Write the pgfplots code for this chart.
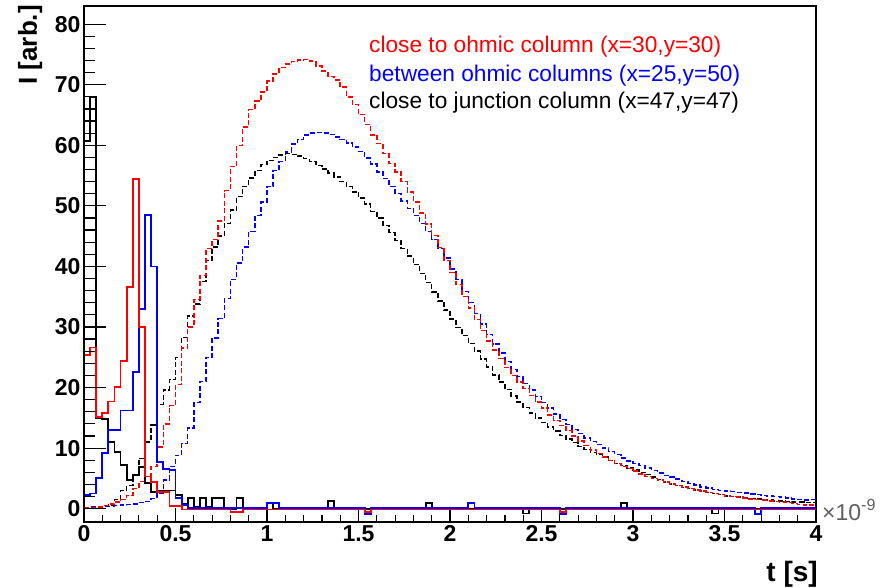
\documentclass[border=0pt]{standalone}
\usepackage{fontspec}
\setmainfont{Liberation Sans}
\usepackage{pgfplots}
\pgfplotsset{compat=1.18}
\usepackage{pgfplotstable}
\newcommand\tickfont{\fontsize{23}{27}\selectfont\bfseries}
\definecolor{expgray}{RGB}{95,95,95}

% bin index k (bin width 1/30 ns), dashed histograms
\pgfplotstableread{
k red blue black
0 0.1 0.2 0.1
1 0.2 0.3 0.2
2 0.3 0.3 0.3
3 0.5 0.4 0.4
4 0.8 0.4 0.6
5 1.1 0.5 1.5
6 1.5 0.6 3.0
7 2.2 0.7 3.8
8 3.3 0.8 5.5
9 4.5 1.0 8.3
10 5.3 1.2 11.0
11 7.0 1.7 13.8
12 10.2 2.6 17.2
13 14.0 4.7 19.6
14 17.0 7.0 21.3
15 20.5 8.8 25.0
16 26.5 10.8 28.3
17 30.0 13.3 31.8
18 34.5 17.5 33.8
19 38.5 21.0 37.5
20 43.0 25.0 41.0
21 44.4 28.2 43.2
22 47.5 31.4 45.0
23 52.5 34.7 47.1
24 56.5 37.8 49.3
25 60.0 40.6 51.5
26 63.0 43.2 53.2
27 65.9 45.8 54.6
28 67.3 48.4 55.8
29 68.8 50.6 56.8
30 70.6 53.2 57.5
31 71.8 55.8 58.0
32 72.8 57.3 58.4
33 73.4 58.9 58.6
34 73.8 60.2 58.5
35 74.1 61.0 58.2
36 74.2 61.7 57.8
37 73.9 62.0 57.3
38 73.1 62.1 56.7
39 72.3 62.0 56.1
40 71.4 61.8 55.4
41 70.8 61.4 54.8
42 69.6 61.0 54.0
43 68.0 60.4 53.2
44 66.7 59.7 52.3
45 65.1 59.0 51.3
46 63.4 57.9 50.3
47 61.7 56.9 49.1
48 60.3 55.6 48.0
49 58.6 54.5 46.8
50 57.0 53.2 45.6
51 55.6 52.0 44.3
52 54.0 50.8 43.0
53 52.3 49.6 41.7
54 50.6 48.4 40.3
55 48.8 47.1 38.8
56 47.0 45.8 37.3
57 45.1 44.4 35.8
58 43.1 43.0 34.3
59 41.0 41.4 32.8
60 39.0 39.6 31.3
61 37.0 37.8 29.9
62 35.0 35.9 28.6
63 33.1 34.0 27.3
64 31.2 32.2 26.0
65 29.4 30.5 24.7
66 27.7 28.8 23.4
67 26.2 27.2 22.1
68 24.8 25.7 20.9
69 23.3 24.3 19.7
70 22.0 23.0 18.6
71 20.9 21.8 17.6
72 19.8 20.7 16.7
73 18.7 19.6 15.8
74 17.6 18.5 15.0
75 16.6 17.5 14.2
76 15.5 16.6 13.5
77 14.6 15.6 12.8
78 13.7 14.7 12.1
79 12.9 13.9 11.5
80 12.0 13.1 10.9
81 11.2 12.4 10.3
82 10.4 11.7 9.8
83 9.7 11.1 9.3
84 9.1 10.6 8.9
85 8.5 10.0 8.5
86 8.0 9.4 8.0
87 7.5 8.9 7.5
88 7.0 8.4 7.1
89 6.6 7.9 6.7
90 6.2 7.5 6.4
91 5.7 7.1 6.0
92 5.3 6.7 5.6
93 5.0 6.3 5.2
94 4.7 5.9 4.8
95 4.4 5.5 4.4
96 4.1 5.2 4.1
97 3.8 4.9 3.8
98 3.6 4.5 3.5
99 3.3 4.2 3.3
100 3.1 3.9 3.1
101 2.9 3.6 2.9
102 2.7 3.4 2.7
103 2.5 3.2 2.5
104 2.3 3.0 2.3
105 2.1 2.9 2.1
106 2.0 2.8 2.0
107 1.9 2.7 1.9
108 1.8 2.6 1.8
109 1.6 2.4 1.7
110 1.5 2.3 1.6
111 1.4 2.2 1.5
112 1.3 2.1 1.4
113 1.2 2.0 1.3
114 1.1 1.9 1.3
115 1.0 1.8 1.2
116 0.9 1.6 1.1
117 0.7 1.5 1.1
118 0.6 1.4 1.0
119 0.6 1.5 1.0
120 0.6 1.5 1.0
}\dashed

\begin{document}
\begin{tikzpicture}
\path[use as bounding box] (-84pt,-65pt) rectangle (803pt,522pt);
\begin{axis}[
  scale only axis, width=732pt, height=516pt,
  at={(0pt,0pt)}, anchor=south west,
  xmin=0, xmax=120, ymin=-2.2, ymax=83,
  xtick={0,15,...,120},
  xticklabels={0,0.5,1,1.5,2,2.5,3,3.5,4},
  minor x tick num=4,
  ytick=\empty,
  xtick pos=lower,
  tick align=inside,
  major tick length=14pt, minor tick length=7.5pt,
  xticklabel style={font=\tickfont},
  axis line style={line width=1.2pt},
  every tick/.style={black, line width=1.2pt},
  dsh/.style={const plot, line width=1.45pt, dash pattern=on 5pt off 2.5pt},
  sld/.style={const plot, line width=1.8pt},
]
\addplot[dsh, black] table[x=k, y=black] {\dashed};
\addplot[dsh, blue] table[x=k, y=blue] {\dashed};
\addplot[dsh, red] table[x=k, y=red] {\dashed};
% solid: black
\addplot[sld, black] coordinates {(0,60.7)(1,68.0)(2,15.0)(3,14.8)(4,11.0)(5,9.4)(6,7.2)(7,4.7)(8,5.5)(9,6.9)(10,4.2)(11,2.8)(12,3.0)(13,3.0)(14,3.0)(15,2.2)(16,0.8)(17,1.8)(18,0.3)(19,1.8)(20,0.3)(21,1.8)(22,1.8)(23,0)(25,1.8)(26,0)(30,1.0)(31,0)(40,1.3)(41,0)(56,1.0)(57,0)(72,-0.8)(73,0)(88,1.0)(89,0)(103,-0.8)(104,0)(120,0)};
% solid: blue
\addplot[sld, blue] coordinates {(0,2.2)(1,2.5)(2,5.0)(3,9.2)(4,13.0)(5,13.0)(6,16.2)(7,16.2)(8,22.6)(9,33.0)(10,48.5)(11,40.0)(12,7.7)(13,6.6)(14,6.4)(15,1.7)(16,0.6)(17,0.15)(30,1.0)(32,0.15)(46,-0.9)(47,0.15)(63,1.0)(64,0.15)(78,-0.9)(79,0.15)(110,-0.9)(111,0.15)(120,0.15)};
% solid: red
\addplot[sld, red] coordinates {(0,25.4)(1,26.6)(2,15.2)(3,15.8)(4,17.7)(5,20.1)(6,24.4)(7,36.6)(8,54.5)(9,30.0)(10,5.3)(11,4.4)(12,2.8)(13,2.8)(14,0.4)(15,0.4)(16,-0.15)(24,-0.5)(26,-0.15)(46,-0.6)(47,-0.15)(78,-0.6)(79,-0.15)(120,-0.15)};
\end{axis}
\begin{axis}[
  scale only axis, width=732pt, height=516pt,
  at={(0pt,0pt)}, anchor=south west,
  xmin=0, xmax=120, ymin=-2.2, ymax=83,
  hide x axis, axis y line*=left,
  ytick={0,10,...,80}, minor y tick num=4,
  tick align=inside,
  major tick length=22pt, minor tick length=11pt,
  yticklabel style={font=\tickfont},
  /pgf/number format/assume math mode=true,
  axis line style={line width=1.2pt},
  every tick/.style={black, line width=1.2pt},
]
\end{axis}
\node[anchor=base east, rotate=90, inner sep=0pt, font=\fontsize{26}{30}\selectfont\bfseries] at (-47pt,517pt) {I [arb.]};
\node[anchor=base east, inner sep=0pt, font=\fontsize{28}{32}\selectfont\bfseries] at (734pt,-59pt) {t [s]};
\node[anchor=base west, inner sep=0pt, text=expgray, font=\fontsize{23}{26}\selectfont] at (738pt,2pt) {×10\textsuperscript{-9}};
\node[anchor=base west, inner sep=0pt, text=red, font=\fontsize{22.7}{26}\selectfont] at (285pt,469pt) {close to ohmic column (x=30,y=30)};
\node[anchor=base west, inner sep=0pt, text=blue, font=\fontsize{22.7}{26}\selectfont] at (285pt,440pt) {between ohmic columns (x=25,y=50)};
\node[anchor=base west, inner sep=0pt, text=black, font=\fontsize{22.7}{26}\selectfont] at (285pt,413pt) {close to junction column (x=47,y=47)};
\end{tikzpicture}
\end{document}
